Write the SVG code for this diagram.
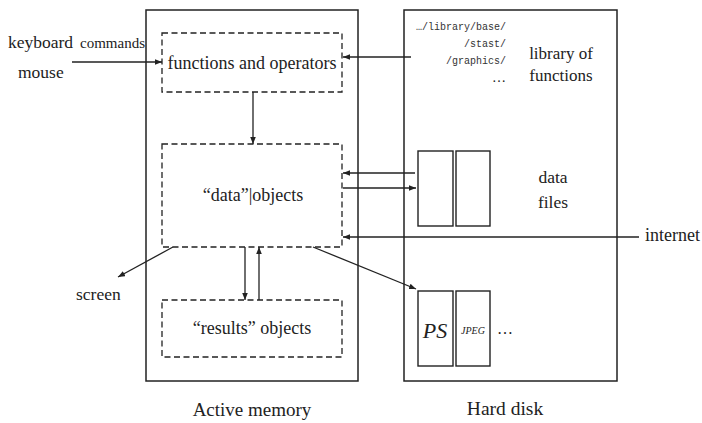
<svg xmlns="http://www.w3.org/2000/svg" width="702" height="423" viewBox="0 0 702 423">
<defs>
<marker id="ah" viewBox="0 0 10 8" refX="10" refY="4" markerWidth="7" markerHeight="5.6" orient="auto" markerUnits="userSpaceOnUse">
<path d="M0,0 L10,4 L0,8 Z" fill="#222"/>
</marker>
</defs>
<g id="active-memory">
<rect x="146" y="10" width="212" height="371" fill="none" stroke="#222" stroke-width="1.5"/>
<text font-family="Liberation Serif" fill="#222" x="252" y="416" font-size="19" text-anchor="middle">Active memory</text>
</g>
<g id="hard-disk">
<rect x="404" y="10" width="213" height="371" fill="none" stroke="#222" stroke-width="1.5"/>
<text font-family="Liberation Serif" fill="#222" x="505" y="415" font-size="19.5" text-anchor="middle">Hard disk</text>
</g>
<g id="functions-operators">
<rect x="162" y="33" width="180" height="59" fill="none" stroke="#222" stroke-width="1.3" stroke-dasharray="6,3.5"/>
<text font-family="Liberation Serif" fill="#222" x="252" y="69" font-size="18" text-anchor="middle">functions and operators</text>
</g>
<g id="data-objects">
<rect x="162" y="144" width="180" height="103" fill="none" stroke="#222" stroke-width="1.3" stroke-dasharray="6,3.5"/>
<text font-family="Liberation Serif" fill="#222" x="253" y="201" font-size="18" text-anchor="middle">“data”|objects</text>
</g>
<g id="results-objects">
<rect x="162" y="300" width="180" height="57" fill="none" stroke="#222" stroke-width="1.3" stroke-dasharray="6,3.5"/>
<text font-family="Liberation Serif" fill="#222" x="252" y="334" font-size="18" text-anchor="middle">“results” objects</text>
</g>
<g id="library">
<text font-family="Liberation Mono" fill="#333" font-size="10" x="506" y="30" text-anchor="end">…/library/base/</text>
<text font-family="Liberation Mono" fill="#333" font-size="10" x="506" y="47" text-anchor="end">/stast/</text>
<text font-family="Liberation Mono" fill="#333" font-size="10" x="506" y="64" text-anchor="end">/graphics/</text>
<text font-family="Liberation Serif" fill="#222" x="506" y="82" font-size="14" text-anchor="end">…</text>
<text font-family="Liberation Serif" fill="#222" x="561" y="59" font-size="17" text-anchor="middle">library of</text>
<text font-family="Liberation Serif" fill="#222" x="561" y="81" font-size="17" text-anchor="middle">functions</text>
</g>
<g id="data-files">
<rect x="418" y="151" width="35" height="75" fill="none" stroke="#222" stroke-width="1.4"/>
<rect x="456" y="151" width="34" height="75" fill="none" stroke="#222" stroke-width="1.4"/>
<text font-family="Liberation Serif" fill="#222" x="553" y="183" font-size="17.5" text-anchor="middle">data</text>
<text font-family="Liberation Serif" fill="#222" x="553" y="208" font-size="17.5" text-anchor="middle">files</text>
</g>
<g id="graphics-files">
<rect x="418" y="291" width="35" height="75" fill="none" stroke="#222" stroke-width="1.4"/>
<rect x="456" y="291" width="34" height="75" fill="none" stroke="#222" stroke-width="1.4"/>
<text font-family="Liberation Serif" fill="#222" x="435" y="338" font-size="22" font-style="italic" text-anchor="middle">PS</text>
<text font-family="Liberation Serif" fill="#222" x="473" y="334" font-size="10" font-style="italic" text-anchor="middle">JPEG</text>
<text font-family="Liberation Serif" fill="#222" x="505" y="334" font-size="16" text-anchor="middle">…</text>
</g>
<g id="inputs">
<text font-family="Liberation Serif" fill="#222" x="8" y="48" font-size="17.5">keyboard</text>
<text font-family="Liberation Serif" fill="#222" x="80" y="48" font-size="15">commands</text>
<text font-family="Liberation Serif" fill="#222" x="18" y="78" font-size="17.5">mouse</text>
</g>
<g id="screen">
<text font-family="Liberation Serif" fill="#222" x="76" y="300" font-size="17.5">screen</text>
</g>
<g id="internet">
<text font-family="Liberation Serif" fill="#222" x="645" y="241" font-size="18">internet</text>
</g>
<g id="connectors" fill="none" stroke="#222" stroke-width="1.3">
<line x1="72" y1="62" x2="162" y2="62" marker-end="url(#ah)"/>
<line x1="411" y1="57" x2="343" y2="57" marker-end="url(#ah)"/>
<line x1="253" y1="92" x2="253" y2="144" marker-end="url(#ah)"/>
<line x1="415" y1="173" x2="343" y2="173" marker-end="url(#ah)"/>
<line x1="343" y1="188" x2="416" y2="188" marker-end="url(#ah)"/>
<line x1="639" y1="237" x2="343" y2="237" marker-end="url(#ah)"/>
<line x1="245" y1="247" x2="245" y2="300" marker-end="url(#ah)"/>
<line x1="259" y1="300" x2="259" y2="247" marker-end="url(#ah)"/>
<line x1="173" y1="247" x2="118" y2="277" marker-end="url(#ah)"/>
<line x1="313" y1="247" x2="416" y2="289" marker-end="url(#ah)"/>
</g>
</svg>
